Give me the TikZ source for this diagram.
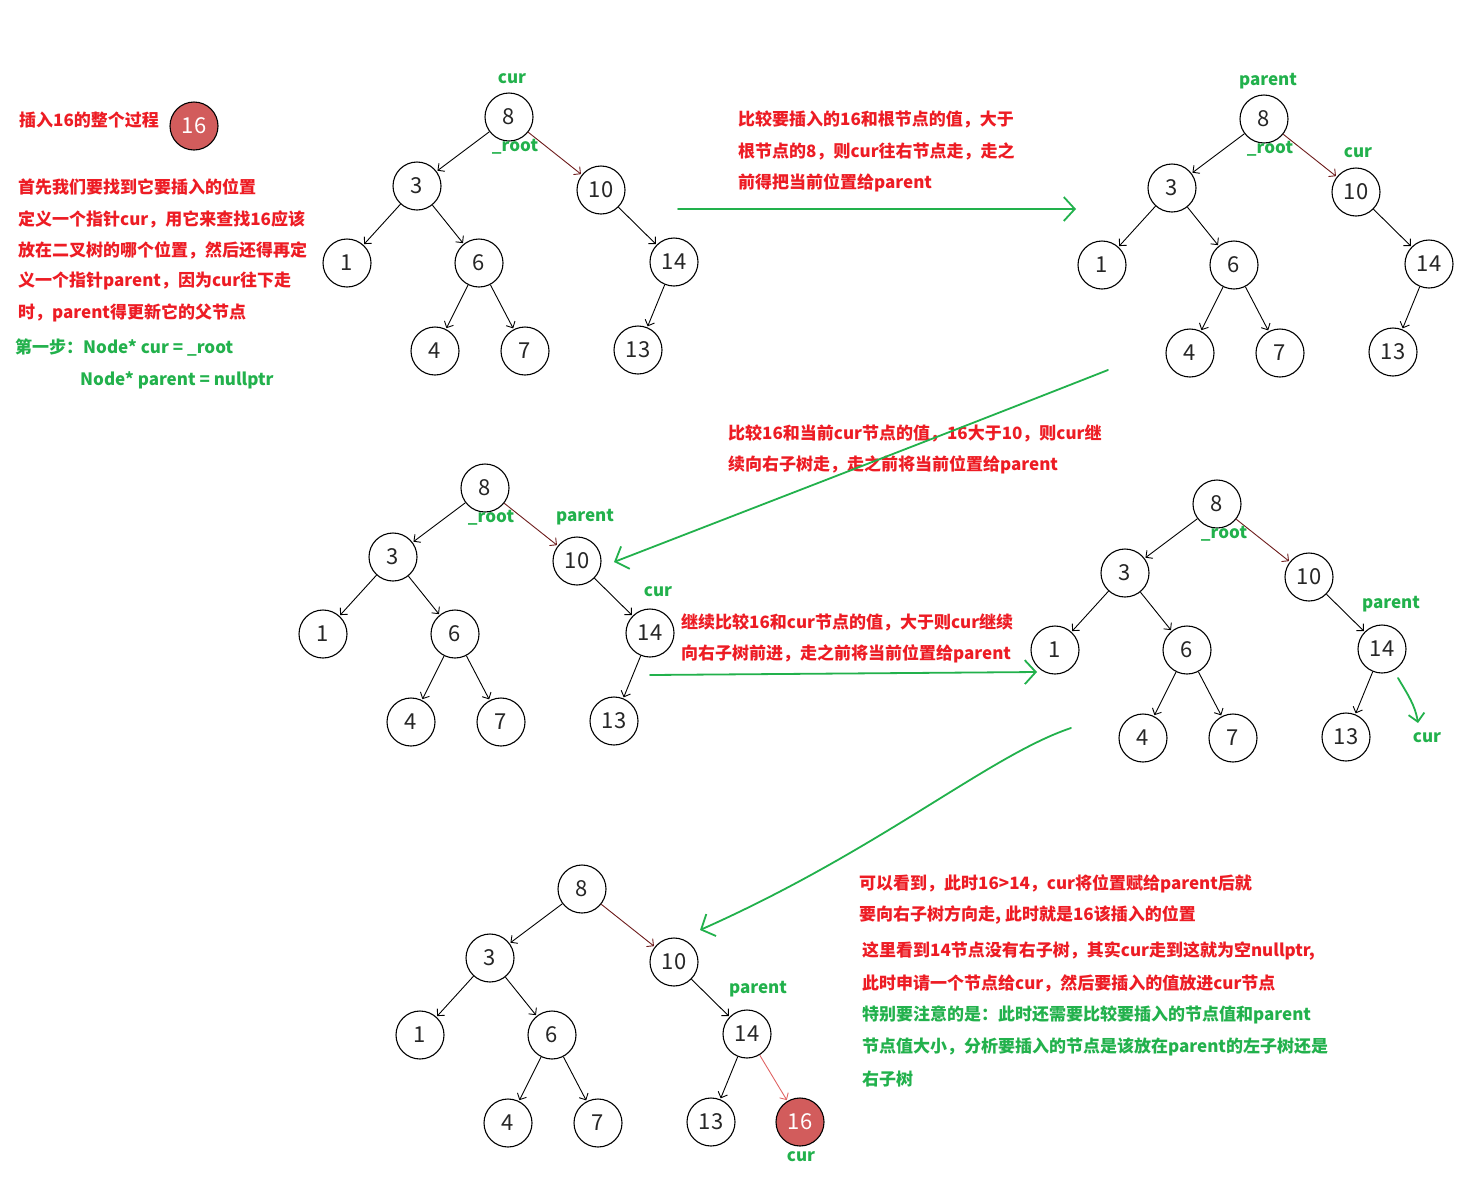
\documentclass[tikz,border=0pt]{standalone}
\usepackage{fontspec}
\setmainfont{Noto Sans CJK SC}
\usetikzlibrary{arrows.meta}
\definecolor{pred}{HTML}{ED1C24}
\definecolor{pgreen}{HTML}{22B14C}
\definecolor{nfill}{HTML}{D25C5C}
\definecolor{edgered}{HTML}{6E1C1C}
\definecolor{newred}{HTML}{E06464}
\tikzset{
 nd/.style={circle,draw=black,line width=1.1pt,minimum size=48pt,inner sep=0pt,font=\fontsize{22}{22}\selectfont,text=black!85},
 rednd/.style={nd,fill=nfill,text=white},
 tedge/.style={line width=0.9pt,shorten >=1pt,-{Straight Barb[length=5pt,width=10pt]}},
 redge/.style={tedge,draw=edgered},
 nedge/.style={tedge,draw=newred},
 txt/.style={anchor=west,inner sep=0pt,font=\fontsize{17}{17}\selectfont\bfseries},
 rtxt/.style={txt,text=pred},
 gtxt/.style={txt,text=pgreen},
 lbl/.style={inner sep=0pt,font=\fontsize{17}{17}\selectfont\bfseries,text=pgreen},
 garrow/.style={draw=pgreen,line width=1.8pt,line cap=round,-{Straight Barb[length=11pt,width=24pt]}},
 gsmall/.style={draw=pgreen,line width=1.8pt,line cap=round,-{Straight Barb[length=8pt,width=16pt]}},
}
\newcommand\bsttree[3]{%
\begin{scope}[shift={(#2,#3)}]
\node[nd] (#1n8) at (509,117) {8};
\node[nd] (#1n3) at (417,186) {3};
\node[nd] (#1n10) at (601,190) {10};
\node[nd] (#1n1) at (347,263) {1};
\node[nd] (#1n6) at (479,263) {6};
\node[nd] (#1n14) at (674,262) {14};
\node[nd] (#1n4) at (435,351) {4};
\node[nd] (#1n7) at (525,351) {7};
\node[nd] (#1n13) at (638,350) {13};
\end{scope}
\draw[tedge] (#1n8) -- (#1n3);
\draw[redge] (#1n8) -- (#1n10);
\draw[tedge] (#1n3) -- (#1n1);
\draw[tedge] (#1n3) -- (#1n6);
\draw[tedge] (#1n6) -- (#1n4);
\draw[tedge] (#1n6) -- (#1n7);
\draw[tedge] (#1n10) -- (#1n14);
\draw[tedge] (#1n14) -- (#1n13);
}
\begin{document}
\begin{tikzpicture}[x=1pt,y=-1pt]
\useasboundingbox[fill=white] (0,0) rectangle (1477,1176);

% ---- trees
\bsttree{a}{0}{0}
\bsttree{b}{755}{2}
\bsttree{c}{-24}{371}
\bsttree{d}{708}{387}
\bsttree{e}{73}{772}
\node[rednd] (e16) at (800,1122) {16};
\draw[nedge] (en14) -- (e16);

% ---- pointer labels
\node[lbl] (la1) at (512,79) {cur};
\node[lbl] (la2) at (515,147) {\_root};
\node[lbl] (lb1) at (1268,81) {parent};
\node[lbl] (lb2) at (1270,149) {\_root};
\node[lbl] (lb3) at (1358,153) {cur};
\node[lbl] (lc1) at (491,518) {\_root};
\node[lbl] (lc2) at (585,517) {parent};
\node[lbl] (lc3) at (658,592) {cur};
\node[lbl] (ld1) at (1224,534) {\_root};
\node[lbl] (ld2) at (1391,604) {parent};
\node[lbl] (ld3) at (1427,738) {cur};
\node[lbl] (le1) at (758,989) {parent};
\node[lbl] (le2) at (801,1157) {cur};
\coordinate (dcs) at (1398,678);
\coordinate (dce) at (1418,723);
\draw[gsmall] (dcs) .. controls (1408,695) and (1415,705) .. (dce);

% ---- left texts
\node[rtxt] (t0) at (19,120) {插入16的整个过程};
\node[rednd] (n16) at (194,126) {16};
\node[rtxt] (t1) at (18,187) {首先我们要找到它要插入的位置};
\node[rtxt] (t2) at (18,219) {定义一个指针cur，用它来查找16应该};
\node[rtxt] (t3) at (18,250) {放在二叉树的哪个位置，然后还得再定};
\node[rtxt] (t4) at (18,281) {义一个指针parent，因为cur往下走};
\node[rtxt] (t5) at (18,313) {时，parent得更新它的父节点};
\node[gtxt] (g1) at (15,348) {第一步：Node* cur = \_root};
\node[gtxt] (g2) at (80,380) {Node* parent = nullptr};

% ---- step texts
\node[rtxt] (s11) at (738,119) {比较要插入的16和根节点的值，大于};
\node[rtxt] (s12) at (738,151) {根节点的8，则cur往右节点走，走之};
\node[rtxt] (s13) at (738,183) {前得把当前位置给parent};

\node[rtxt] (s21) at (728,433) {比较16和当前cur节点的值，16大于10，则cur继};
\node[rtxt] (s22) at (728,465) {续向右子树走，走之前将当前位置给parent};

\node[rtxt] (s31) at (681,622) {继续比较16和cur节点的值，大于则cur继续};
\node[rtxt] (s32) at (681,654) {向右子树前进，走之前将当前位置给parent};

\node[rtxt] (s41) at (859,884) {可以看到，此时16>14，cur将位置赋给parent后就};
\node[rtxt] (s42) at (859,915) {要向右子树方向走, 此时就是16该插入的位置};
\node[rtxt] (s43) at (862,951) {这里看到14节点没有右子树，其实cur走到这就为空nullptr,};
\node[rtxt] (s44) at (862,983) {此时申请一个节点给cur，然后要插入的值放进cur节点};
\node[gtxt] (s45) at (862,1015) {特别要注意的是：此时还需要比较要插入的节点值和parent};
\node[gtxt] (s46) at (862,1047) {节点值大小，分析要插入的节点是该放在parent的左子树还是};
\node[gtxt] (s47) at (862,1079) {右子树};

% ---- green process arrows
\coordinate (a1s) at (678,209);
\coordinate (a1e) at (1076,209);
\draw[garrow] (a1s) -- (a1e);
\coordinate (a2s) at (1108,370);
\coordinate (a2e) at (614,562);
\draw[garrow] (a2s) .. controls (940,436) and (823,481) .. (a2e);
\coordinate (a3s) at (650,675);
\coordinate (a3e) at (1037,672);
\draw[garrow] (a3s) -- (a3e);
\coordinate (a4s) at (1071,728);
\coordinate (a4e) at (700,930);
\draw[garrow] (a4s) .. controls (990,755) and (880,850) .. (a4e);
\end{tikzpicture}
\end{document}
